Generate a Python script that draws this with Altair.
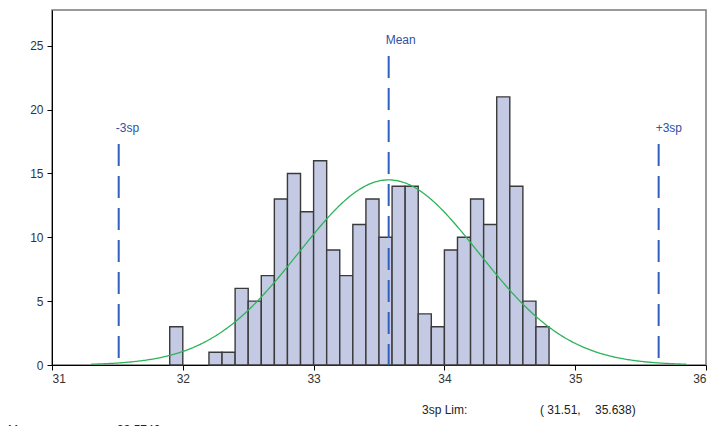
import altair as alt
import pandas as pd

# ---- data ----
bin_start = [31.9, 32.2, 32.3, 32.4, 32.5, 32.6, 32.7, 32.8, 32.9, 33.0,
             33.1, 33.2, 33.3, 33.4, 33.5, 33.6, 33.7, 33.8, 33.9, 34.0,
             34.1, 34.2, 34.3, 34.4, 34.5, 34.6, 34.7]
counts = [3, 1, 1, 6, 5, 7, 13, 15, 12, 16,
          9, 7, 11, 13, 10, 14, 14, 4, 3, 9,
          10, 13, 11, 21, 14, 5, 3]
bin_width = 0.1
mean_val = 33.574
lim_lo, lim_hi = 31.51, 35.638
sp = (lim_hi - lim_lo) / 6
n_obs = sum(counts)

ref_x = [lim_lo, mean_val, lim_hi]
ref_top = [17.3, 24.2, 17.3]
ref_label = ["-3sp", "Mean", "+3sp"]

x_ticks = [31, 32, 33, 34, 35, 36]
y_ticks = [0, 5, 10, 15, 20, 25]

W, H = 654, 355
FONT = "Liberation Sans"

hist = pd.DataFrame({
    "x": bin_start,
    "x2": [round(b + bin_width, 2) for b in bin_start],
    "count": counts,
})
refs = pd.DataFrame({"x": ref_x, "top": ref_top, "label": ref_label, "zero": [0, 0, 0]})

xscale = alt.Scale(domain=[31, 36], nice=False, zero=False)
yscale = alt.Scale(domain=[0, 27.8], nice=False)

xaxis = alt.Axis(values=x_ticks, title=None, grid=False, tickSize=5, labelPadding=3,
                 domainColor="#000000", tickColor="#000000", labelColor="#333333",
                 labelFont=FONT, labelFontSize=12, format="d")
yaxis = alt.Axis(values=y_ticks, title=None, grid=False, tickSize=5, labelPadding=4,
                 domainColor="#000000", tickColor="#000000", labelColor="#333333",
                 labelFont=FONT, labelFontSize=12)

bars = alt.Chart(hist).mark_rect(fill="#c5cae4", stroke="#3a3a3a", strokeWidth=1.4).encode(
    x=alt.X("x:Q", scale=xscale, axis=xaxis),
    x2="x2:Q",
    y=alt.Y("count:Q", scale=yscale, axis=yaxis),
    y2=alt.datum(0),
)

curve_expr = f"{n_obs * bin_width} * densityNormal(datum.x, {mean_val}, {sp})"
curve = alt.Chart(alt.sequence(31.3, 35.86, 0.01, as_="x")).transform_calculate(
    y=curve_expr
).mark_line(color="#2db35a", strokeWidth=1.3).encode(
    x=alt.X("x:Q", scale=xscale),
    y=alt.Y("y:Q", scale=yscale),
)

rules = alt.Chart(refs).mark_rule(color="#2f5fbf", strokeWidth=2, strokeDash=[22, 10]).encode(
    x=alt.X("x:Q", scale=xscale),
    y=alt.Y("top:Q", scale=yscale),
    y2="zero:Q",
)

labels = alt.Chart(refs).mark_text(
    align="left", baseline="middle", dx=-3, dy=-16, font=FONT, fontSize=12, color="#2f4fa8"
).encode(
    x=alt.X("x:Q", scale=xscale),
    y=alt.Y("top:Q", scale=yscale),
    text="label:N",
)

# bottom statistics text (positions in pixels relative to plot origin)
stat_txt = pd.DataFrame({
    "t": ["3sp Lim:", f"( {lim_lo},", f"{lim_hi})", "Mean", f"{mean_val:.4f}"],
    "px": [370, 488, 543, -44, 65],
    "py": [400, 400, 400, 420, 420],
})
stats = alt.Chart(stat_txt).mark_text(
    align="left", baseline="middle", font=FONT, fontSize=12, color="#222222"
).encode(
    x=alt.X("px:Q", scale=None),
    y=alt.Y("py:Q", scale=None),
    text="t:N",
)

chart = alt.layer(bars, curve, rules, labels, stats).properties(
    width=W, height=H,
    autosize=alt.AutoSizeParams(type="none"),
    padding={"left": 52, "top": 10, "right": 22, "bottom": 61},
    background="white",
).configure_view(
    stroke="#7a7a7a", strokeWidth=1.5
)

chart.save("out.html", embed_options={"renderer": "svg", "actions": False})
